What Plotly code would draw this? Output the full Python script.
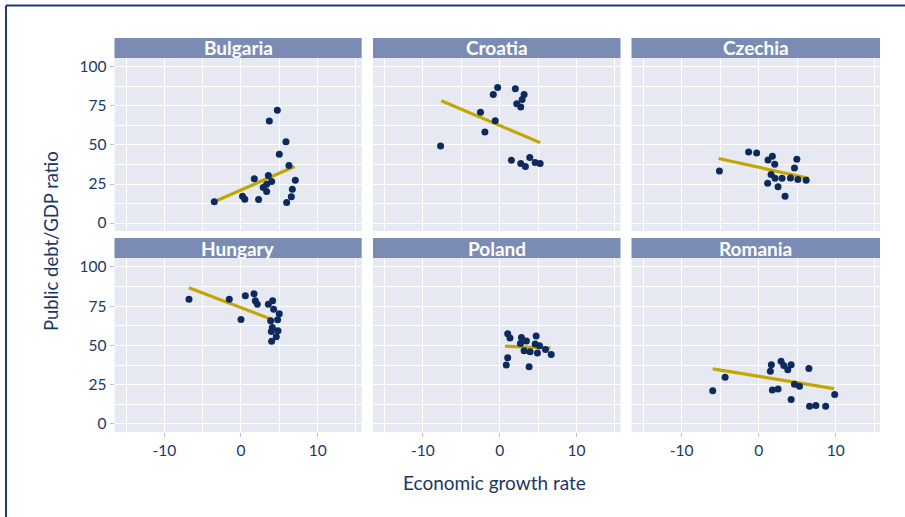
import plotly.graph_objects as go

countries = ["Bulgaria", "Croatia", "Czechia", "Hungary", "Poland", "Romania"]

bulgaria_x = [4.74, 3.7, 5.87, 5.0, 6.26, 7.09, 3.57, 1.74, 4.0, 3.35, 2.9, 3.35, 6.7, 6.57, 5.96, 2.3, 0.2, 0.5, -3.48]
bulgaria_y = [72.3, 65.3, 52.1, 44.0, 36.8, 27.4, 30.4, 28.3, 26.6, 24.9, 22.8, 20.2, 21.7, 16.8, 13.2, 15.1, 17.2, 15.3, 13.6]

croatia_x = [-0.26, 2.05, 3.19, -0.83, 2.93, 2.23, 2.75, -2.49, -0.57, -1.92, -7.69, 1.53, 3.93, 2.75, 3.36, 4.63, 5.28]
croatia_y = [86.8, 86.0, 82.3, 82.3, 79.1, 76.4, 74.3, 70.9, 65.5, 58.3, 49.4, 40.2, 41.9, 38.1, 36.2, 38.7, 38.1]

czechia_x = [-1.3, -0.26, 1.78, 1.22, 2.09, 4.96, 4.65, -5.09, 1.61, 2.13, 3.04, 4.13, 5.09, 6.17, 1.17, 2.52, 3.43]
czechia_y = [45.5, 44.9, 42.8, 40.4, 37.7, 40.9, 35.3, 33.4, 31.1, 28.7, 28.7, 28.9, 27.9, 27.4, 25.5, 23.2, 17.2]

hungary_x = [-6.78, -1.52, 0.57, 1.7, 1.87, 2.13, 3.57, 4.13, 4.26, 5.0, 0.0, 3.87, 4.78, 4.09, 3.96, 4.83, 4.61, 4.0]
hungary_y = [79.4, 79.4, 81.6, 82.9, 78.4, 76.2, 76.2, 78.4, 73.0, 70.2, 66.6, 65.7, 66.4, 61.5, 58.9, 59.3, 55.5, 52.7]

poland_x = [1.05, 1.35, 2.84, 3.49, 4.76, 2.71, 4.63, 5.2, 5.98, 3.19, 3.97, 4.93, 6.72, 1.05, 0.87, 3.84]
poland_y = [57.4, 54.8, 55.0, 52.9, 56.1, 51.2, 51.0, 49.9, 47.5, 46.7, 46.0, 45.2, 44.3, 42.2, 37.5, 36.4]

romania_x = [2.91, 1.65, 3.26, 4.22, 3.78, 1.52, 6.52, -4.35, 4.65, 5.3, 1.78, 2.52, -5.96, 9.87, 4.22, 6.61, 7.43, 8.7]
romania_y = [40.0, 37.7, 37.3, 37.7, 34.5, 33.6, 35.3, 29.8, 25.3, 24.0, 21.6, 22.3, 21.2, 18.8, 15.6, 11.3, 11.8, 11.3]

# fitted trend line endpoints
trend_x = {"Bulgaria": [-3.5, 7.0], "Croatia": [-7.6, 5.28], "Czechia": [-5.2, 6.48],
           "Hungary": [-6.78, 4.13], "Poland": [0.7, 6.64], "Romania": [-5.96, 9.78]}
trend_y = {"Bulgaria": [13.6, 36.2], "Croatia": [78.3, 51.5], "Czechia": [41.3, 28.7],
           "Hungary": [86.7, 66.4], "Poland": [49.5, 48.4], "Romania": [35.1, 22.5]}

data_x = {"Bulgaria": bulgaria_x, "Croatia": croatia_x, "Czechia": czechia_x,
          "Hungary": hungary_x, "Poland": poland_x, "Romania": romania_x}
data_y = {"Bulgaria": bulgaria_y, "Croatia": croatia_y, "Czechia": czechia_y,
          "Hungary": hungary_y, "Poland": poland_y, "Romania": romania_y}

x_ticks = [-10, 0, 10]
y_ticks = [0, 25, 50, 75, 100]

NAVY = "#0e2a5c"
TEXT = "#1b3766"
GOLD = "#c3a600"
STRIP = "#7b8cb4"
PANEL = "#e7e9f2"
FONT = "Lato, Open Sans, sans-serif"

W, H = 905, 517
ML, MR, MT, MB = 114, 25, 38, 85
PW, PH = W - ML - MR, H - MT - MB

def px2x(px):
    return (px - ML) / PW

def py2y(py):
    return (H - MB - py) / PH

col_dom = [[px2x(114.5), px2x(361.7)], [px2x(373), px2x(620.5)], [px2x(631.5), px2x(880)]]
row_plot = [[py2y(231), py2y(58)], [py2y(432), py2y(258)]]
row_strip = [[py2y(58), py2y(38)], [py2y(258), py2y(238)]]

fig = go.Figure()
layout = dict(
    width=W, height=H,
    margin=dict(l=ML, r=MR, t=MT, b=MB),
    paper_bgcolor="white", plot_bgcolor=PANEL,
    showlegend=False,
    font=dict(family=FONT, color=TEXT, size=15),
)
shapes = []
annotations = []

for i, c in enumerate(countries):
    r, col = divmod(i, 3)
    n = i + 1
    xa = "x" if n == 1 else f"x{n}"
    ya = "y" if n == 1 else f"y{n}"
    fig.add_trace(go.Scatter(x=trend_x[c], y=trend_y[c], mode="lines",
                             line=dict(color=GOLD, width=3.2), xaxis=xa, yaxis=ya,
                             hoverinfo="skip"))
    fig.add_trace(go.Scatter(x=data_x[c], y=data_y[c], mode="markers",
                             marker=dict(color=NAVY, size=7), xaxis=xa, yaxis=ya))
    xkey = "xaxis" if n == 1 else f"xaxis{n}"
    ykey = "yaxis" if n == 1 else f"yaxis{n}"
    layout[xkey] = dict(
        domain=col_dom[col], anchor=ya, range=[-16.5, 15.75],
        tickvals=x_ticks, ticktext=[str(v) for v in x_ticks],
        showticklabels=(r == 1), ticks="outside" if r == 1 else "",
        ticklen=4, tickcolor="#b8bfd4", tickwidth=1,
        showgrid=True, gridcolor="white", gridwidth=1.2,
        minor=dict(tickvals=[-15, -5, 5, 15], showgrid=True, gridcolor="white", gridwidth=1.2),
        zeroline=False, showline=False, fixedrange=True,
        tickfont=dict(size=15.5, color=TEXT, family=FONT),
    )
    layout[ykey] = dict(
        domain=row_plot[r], anchor=xa, range=[-5.1, 105.7],
        tickvals=y_ticks, ticktext=[str(v) for v in y_ticks],
        showticklabels=(col == 0), ticks="outside" if col == 0 else "",
        ticklen=4, tickcolor="#b8bfd4", tickwidth=1,
        showgrid=True, gridcolor="white", gridwidth=1.2,
        minor=dict(tickvals=[12.5, 37.5, 62.5, 87.5], showgrid=True, gridcolor="white", gridwidth=1.2),
        zeroline=False, showline=False, fixedrange=True,
        tickfont=dict(size=15.5, color=TEXT, family=FONT),
    )
    # strip
    shapes.append(dict(type="rect", xref="paper", yref="paper",
                       x0=col_dom[col][0], x1=col_dom[col][1],
                       y0=row_strip[r][0], y1=row_strip[r][1],
                       fillcolor=STRIP, line=dict(width=0), layer="above"))
    annotations.append(dict(text=f"<b>{c}</b>", xref="paper", yref="paper",
                            x=(col_dom[col][0] + col_dom[col][1]) / 2,
                            y=(row_strip[r][0] + row_strip[r][1]) / 2,
                            xanchor="center", yanchor="middle", showarrow=False,
                            font=dict(size=19, color="white", family=FONT)))

# axis titles
annotations.append(dict(text="Economic growth rate", xref="paper", yref="paper",
                        x=px2x(494), y=py2y(482), xanchor="center", yanchor="middle",
                        showarrow=False, font=dict(size=19, color=TEXT, family=FONT)))
annotations.append(dict(text="Public debt/GDP ratio", xref="paper", yref="paper",
                        x=px2x(51), y=py2y(241), xanchor="center", yanchor="middle",
                        textangle=-90, showarrow=False,
                        font=dict(size=18.5, color=TEXT, family=FONT)))

# frame lines
shapes.append(dict(type="line", xref="paper", yref="paper",
                   x0=px2x(6), x1=px2x(905), y0=py2y(5.5), y1=py2y(5.5),
                   line=dict(color="#1f3a68", width=2)))
shapes.append(dict(type="line", xref="paper", yref="paper",
                   x0=px2x(6), x1=px2x(6), y0=py2y(5.5), y1=py2y(517),
                   line=dict(color="#1f3a68", width=2)))

layout["shapes"] = shapes
layout["annotations"] = annotations
fig.update_layout(**layout)
fig.write_html("out.html")
